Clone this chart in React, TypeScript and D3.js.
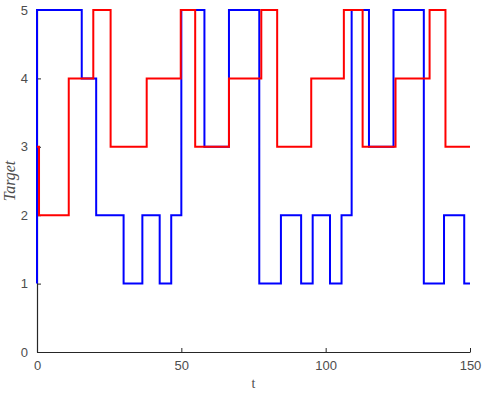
import { useEffect, useRef } from "react";
import * as d3 from "d3";

// step change points (time, value)
const blueTimes = [0, 0, 15.5, 20.5, 30, 36.5, 42.5, 46.5, 50, 58, 66.5, 77, 84.5, 91.5, 95.5, 101.5, 105.5, 109, 115, 123.5, 134, 141, 148, 150];
const blueValues = [1, 5, 4, 2, 1, 2, 1, 2, 5, 3, 5, 1, 2, 1, 2, 1, 2, 5, 3, 5, 1, 2, 1, 1];

const redTimes = [0, 0.7, 11, 19.5, 25.5, 38, 49.8, 54.8, 66.5, 77.7, 83.2, 95, 106.3, 112.8, 124.2, 136, 141.5, 150];
const redValues = [3, 2, 4, 5, 3, 4, 5, 3, 4, 5, 3, 4, 5, 3, 4, 5, 3, 3];

const xTicks = [0, 50, 100, 150];
const yTicks = [0, 1, 2, 3, 4, 5];

export default function App() {
  const svgRef = useRef<SVGSVGElement>(null);

  useEffect(() => {
    const width = 489;
    const height = 393;
    const margin = { top: 10, right: 19, bottom: 41, left: 37 };

    const svg = d3.select(svgRef.current);
    svg.selectAll("*").remove();
    svg.attr("width", width).attr("height", height);

    const x = d3.scaleLinear().domain([0, 150]).range([margin.left, width - margin.right]);
    const y = d3.scaleLinear().domain([0, 5]).range([height - margin.bottom, margin.top]);

    const font = "Helvetica, Arial, 'Liberation Sans', sans-serif";
    const tickColor = "#262626";

    // axes
    const xAxis = svg.append("g")
      .attr("transform", `translate(0,${y(0)})`)
      .call(d3.axisBottom(x).tickValues(xTicks).tickFormat(d3.format("d")).tickSizeInner(-4).tickSizeOuter(0).tickPadding(9));
    const yAxis = svg.append("g")
      .attr("transform", `translate(${x(0)},0)`)
      .call(d3.axisLeft(y).tickValues(yTicks).tickFormat(d3.format("d")).tickSizeInner(-4).tickSizeOuter(0).tickPadding(9));

    [xAxis, yAxis].forEach(g => {
      g.select(".domain").attr("stroke", tickColor).attr("stroke-width", 1.2);
      g.selectAll(".tick line").attr("stroke", tickColor);
      g.selectAll(".tick text")
        .attr("fill", "#4d4d4d")
        .style("font-family", font)
        .style("font-size", "13px");
    });

    const line = d3.line<[number, number]>()
      .x(d => x(d[0]))
      .y(d => y(d[1]))
      .curve(d3.curveStepAfter);

    const series = [
      { times: blueTimes, values: blueValues, color: "#0000ff" },
      { times: redTimes, values: redValues, color: "#ff0000" },
    ];

    series.forEach(s => {
      const pts = s.times.map((t, i) => [t, s.values[i]] as [number, number]);
      svg.append("path")
        .attr("d", line(pts))
        .attr("fill", "none")
        .attr("stroke", s.color)
        .attr("stroke-width", 2);
    });

    // axis labels
    svg.append("text")
      .attr("x", x(75))
      .attr("y", 388)
      .attr("text-anchor", "middle")
      .attr("fill", "#4d4d4d")
      .style("font-family", "'Liberation Serif', 'DejaVu Serif', serif")
      .style("font-size", "14px")
      .text("t");

    svg.append("text")
      .attr("transform", `translate(15,${y(2.5)}) rotate(-90)`)
      .attr("text-anchor", "middle")
      .attr("fill", "#4d4d4d")
      .style("font-family", "'Liberation Serif', 'DejaVu Serif', serif")
      .style("font-style", "italic")
      .style("font-size", "16px")
      .text("Target");
  }, []);

  return <svg ref={svgRef} style={{ position: "absolute", left: 0, top: 0 }}></svg>;
}
